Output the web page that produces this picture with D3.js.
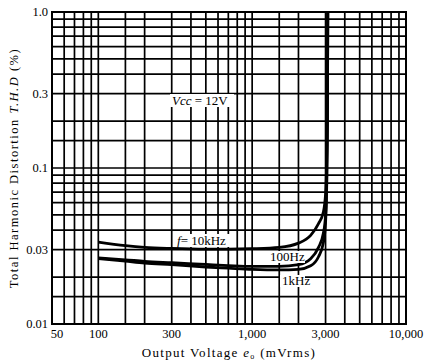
<!DOCTYPE html>
<html>
<head>
<meta charset="utf-8">
<script src="https://cdn.jsdelivr.net/npm/d3@7"></script>
<style>
  body { margin: 0; background: #fff; }
  text { font-family: "Liberation Serif", "DejaVu Serif", serif; fill: #000; }
</style>
</head>
<body>
<div id="chart"></div>
<script>
// Chart size
var chart_width  = 426;
var chart_height = 363;

// Data
var x_grid = [50, 60, 70, 80, 90, 100, 150, 200, 300, 400, 500, 600, 700, 800, 900,
              1000, 1500, 2000, 3000, 4000, 5000, 6000, 7000, 8000, 9000, 10000];
var y_grid = [0.01, 0.015, 0.02, 0.03, 0.04, 0.05, 0.06, 0.07, 0.08, 0.09,
              0.1, 0.15, 0.2, 0.3, 0.4, 0.5, 0.6, 0.7, 0.8, 0.9, 1.0];
var x_ticks = [50, 100, 300, 1000, 3000, 10000];
var x_tick_labels = ['50', '100', '300', '1,000', '3,000', '10,000'];
var y_ticks = [0.01, 0.03, 0.1, 0.3, 1.0];
var y_tick_labels = ['0.01', '0.03', '0.1', '0.3', '1.0'];

var voltage = [100, 150, 200, 300, 500, 700, 1000, 1500, 2000, 2400, 2700, 2900, 3000, 3050, 3090, 3100];
var thd_10k  = [0.0335, 0.0318, 0.031, 0.0305, 0.0302, 0.0302, 0.0304, 0.031, 0.033, 0.037, 0.044, 0.052, 0.068, 0.11, 0.35, 1.0];
var thd_100  = [0.0265, 0.0258, 0.0252, 0.0247, 0.0241, 0.0237, 0.0234, 0.0234, 0.024, 0.0262, 0.031, 0.038, 0.05, 0.08, 0.3, 1.0];
var thd_1k   = [0.0263, 0.0253, 0.0246, 0.024, 0.0232, 0.0228, 0.0224, 0.0222, 0.0224, 0.0236, 0.027, 0.033, 0.045, 0.075, 0.3, 1.0];

var series = [thd_10k, thd_100, thd_1k];

// Scales
var x = d3.scaleLog().domain([50, 10000]).range([52, 406]);
var y = d3.scaleLog().domain([0.01, 1]).range([324, 12]);

var svg = d3.select('#chart')
    .append('svg')
    .attr('width', chart_width)
    .attr('height', chart_height);

// Grid
svg.append('g').selectAll('line')
    .data(x_grid)
    .enter()
    .append('line')
    .attr('x1', function(d){ return x(d); })
    .attr('x2', function(d){ return x(d); })
    .attr('y1', y(1))
    .attr('y2', y(0.01))
    .attr('stroke', '#000')
    .attr('stroke-width', 1.7);

svg.append('g').selectAll('line')
    .data(y_grid)
    .enter()
    .append('line')
    .attr('y1', function(d){ return y(d); })
    .attr('y2', function(d){ return y(d); })
    .attr('x1', x(50))
    .attr('x2', x(10000))
    .attr('stroke', '#000')
    .attr('stroke-width', 1.7);

// Frame
svg.append('rect')
    .attr('x', x(50))
    .attr('y', y(1))
    .attr('width', x(10000) - x(50))
    .attr('height', y(0.01) - y(1))
    .attr('fill', 'none')
    .attr('stroke', '#000')
    .attr('stroke-width', 2);

// Curves
var line = d3.line()
    .x(function(d, i){ return x(voltage[i]); })
    .y(function(d){ return y(d); })
    .curve(d3.curveMonotoneX);

svg.append('g').selectAll('path')
    .data(series)
    .enter()
    .append('path')
    .attr('d', line)
    .attr('fill', 'none')
    .attr('stroke', '#000')
    .attr('stroke-width', 2.8);

// Curve labels with white background
function add_label(px, py, w, h, build) {
    svg.append('rect')
        .attr('x', px - 2).attr('y', py - h + 2)
        .attr('width', w).attr('height', h)
        .attr('fill', '#fff');
    var t = svg.append('text')
        .attr('x', px).attr('y', py)
        .attr('font-size', 13);
    build(t);
}

add_label(172, 105, 64, 13, function(t){
    t.append('tspan').attr('font-style', 'italic').text('V');
    t.append('tspan').attr('font-style', 'italic').text('cc');
    t.append('tspan').text(' = 12V');
});

add_label(177, 245, 58, 13, function(t){
    t.append('tspan').attr('font-style', 'italic').text('f');
    t.append('tspan').text('= 10kHz');
});

add_label(270, 261, 37, 12, function(t){
    t.text('100Hz');
});

add_label(282, 285, 25, 12, function(t){
    t.text('1kHz');
});

// Tick labels
svg.append('g').selectAll('text')
    .data(y_ticks)
    .enter()
    .append('text')
    .attr('x', 48)
    .attr('y', function(d){ return y(d) + 4; })
    .attr('text-anchor', 'end')
    .attr('font-size', 12.5)
    .text(function(d, i){ return y_tick_labels[i]; });

svg.append('g').selectAll('text')
    .data(x_ticks)
    .enter()
    .append('text')
    .attr('x', function(d, i){ return i === 0 ? x(d) + 5 : x(d); })
    .attr('y', 338)
    .attr('text-anchor', 'middle')
    .attr('font-size', 12.5)
    .text(function(d, i){ return x_tick_labels[i]; });

// Axis titles
var xt = svg.append('text')
    .attr('x', 229)
    .attr('y', 357)
    .attr('text-anchor', 'middle')
    .attr('font-size', 13)
    .attr('letter-spacing', 1.3);
xt.append('tspan').text('Output Voltage ');
xt.append('tspan').attr('font-style', 'italic').text('e');
xt.append('tspan').attr('font-size', 8).attr('dy', 2).text('o');
xt.append('tspan').attr('dy', -2).text(' (mVrms)');

var yt = svg.append('text')
    .attr('transform', 'translate(18,168) rotate(-90)')
    .attr('text-anchor', 'middle')
    .attr('font-size', 12.5)
    .attr('letter-spacing', 1.5);
yt.append('tspan').text('Total Harmonic Distortion ');
yt.append('tspan').attr('font-style', 'italic').text('T.H.D');
yt.append('tspan').text(' (%)');
</script>
</body>
</html>
